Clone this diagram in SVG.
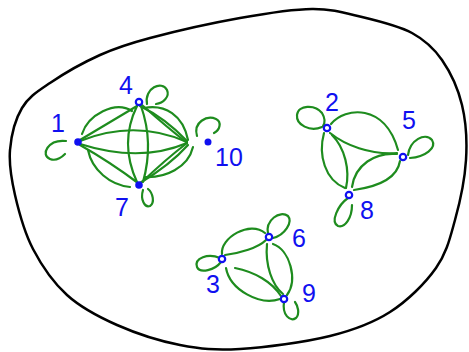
<svg xmlns="http://www.w3.org/2000/svg" width="469" height="352" viewBox="0 0 469 352">
<style>
.outline{fill:none;stroke:#000;stroke-width:2.5;stroke-linecap:round}
.e{fill:none;stroke:#1e8c1e;stroke-width:2.2;stroke-linecap:round}
.n{fill:#fff;stroke:#1010f0;stroke-width:2.2}
.nf{fill:#1010f0;stroke:#1010f0;stroke-width:2}
.l{font-family:"Liberation Sans",Arial,sans-serif;font-size:25px;fill:#1010f0;text-anchor:middle;dominant-baseline:central}
</style>
<rect width="469" height="352" fill="#fff"/>
<path class="outline" d="M10,150 C11.2,135.5 15.3,119.2 22,108 C28.7,96.8 37,91.8 50,83 C63,74.2 83.3,62.5 100,55 C116.7,47.5 126.7,44.2 150,38 C173.3,31.8 213,22.8 240,18 C267,13.2 291.7,9.2 312,9 C332.3,8.8 345.3,13 362,17 C378.7,21 398.7,25.8 412,33 C425.3,40.2 433.7,48 442,60 C450.3,72 458,88.3 462,105 C466,121.7 467.2,140.8 466,160 C464.8,179.2 460,202 455,220 C450,238 446.8,252.7 436,268 C425.2,283.3 407.7,300.7 390,312 C372.3,323.3 355,329.8 330,336 C305,342.2 265,347.5 240,349 C215,350.5 200.5,349 180,345 C159.5,341 135.8,333.3 117,325 C98.2,316.7 81,307.7 67,295 C53,282.3 41.7,265.7 33,249 C24.3,232.3 18.8,211.5 15,195 C11.2,178.5 8.8,164.5 10,150 Z"/>
<g id="connectors">
<!-- cluster 1 -->
<path class="e" d="M80,141 Q135,119 187,142"/>
<path class="e" d="M80,144 Q140,163 187,143"/>
<path class="e" d="M140,106 Q165,118 187,141"/>
<path class="e" d="M142,105 Q168,128 186,142"/>
<path class="e" d="M142,182 Q165,160 187,143"/>
<path class="e" d="M140,183 Q170,165 188,145"/>
<path class="e" d="M137,106 Q119,143 137,182"/>
<path class="e" d="M141,106 Q154,143 143,182"/>
<path class="e" d="M82,134 C88,115 115,100 132,111"/>
<path class="e" d="M80,140 Q105,125 137,106"/>
<path class="e" d="M88,150 C92,170 110,185 130,187"/>
<path class="e" d="M80,145 Q110,162 138,183"/>
<path class="e" d="M144,108 C165,104 183,115 188,140"/>
<path class="e" d="M145,177 C165,178 188,168 193,147"/>
<path class="e" d="M66,141 C48,139 40,155 50,159 C55,161 61,158 65,154"/>
<path class="e" d="M147,104 C144,88 162,80 167,90 C170,97 163,103 156,104"/>
<path class="e" d="M197,136 C193,122 207,115 216,119 C222,122 220,130 214,133"/>
<path class="e" d="M143,190 C140,200 145,208 150,206 C155,203 153,193 148,189"/>
<!-- cluster 2 -->
<path class="e" d="M331,124 C345,107 385,103 398,150"/>
<path class="e" d="M330,133 C345,145 370,155 397,153"/>
<path class="e" d="M324,133 C318,155 325,180 345,188"/>
<path class="e" d="M332,135 C345,148 350,170 346,188"/>
<path class="e" d="M397,154 C375,152 355,165 352,187"/>
<path class="e" d="M400,161 C397,180 375,187 354,190"/>
<path class="e" d="M322,127 C310,132 296,125 297,115 C298,105 315,104 322,113 C325,118 325,123 323,126"/>
<path class="e" d="M408,155 C410,140 425,132 432,140 C437,148 425,157 410,158"/>
<path class="e" d="M348,198 C338,205 330,222 338,226 C345,228 352,218 352,205"/>
<!-- cluster 3 -->
<path class="e" d="M222,254 C220,238 250,220 265,233"/>
<path class="e" d="M225,255 C240,253 258,248 266,240"/>
<path class="e" d="M267,244 C265,265 272,285 283,294"/>
<path class="e" d="M273,244 C290,250 298,280 287,295"/>
<path class="e" d="M235,268 C255,272 272,282 281,296"/>
<path class="e" d="M226,268 C230,290 260,306 280,299"/>
<path class="e" d="M220,258 C208,253 194,258 197,267 C200,274 215,270 221,262"/>
<path class="e" d="M268,234 C265,220 280,210 288,216 C293,222 285,235 273,238"/>
<path class="e" d="M284,302 C282,315 290,322 296,318 C300,314 298,306 295,302"/>
</g>
<g id="node1"><circle class="nf" cx="78" cy="142" r="2.8"/><text class="l" x="58" y="123">1</text></g>
<g id="node4"><circle class="n" cx="139" cy="102" r="3.2"/><text class="l" x="126" y="85">4</text></g>
<g id="node10"><circle class="nf" cx="208" cy="142" r="2.5"/><text class="l" x="229" y="157">10</text></g>
<g id="node7"><circle class="nf" cx="139" cy="185" r="2.8"/><text class="l" x="122" y="207">7</text></g>
<g id="node2"><circle class="n" cx="327" cy="128" r="3.2"/><text class="l" x="332" y="102">2</text></g>
<g id="node5"><circle class="n" cx="403" cy="157" r="3.2"/><text class="l" x="409" y="120">5</text></g>
<g id="node8"><circle class="n" cx="349" cy="195" r="3.2"/><text class="l" x="367" y="210">8</text></g>
<g id="node6"><circle class="n" cx="269" cy="237" r="3.2"/><text class="l" x="299" y="238">6</text></g>
<g id="node3"><circle class="n" cx="222" cy="259" r="3.2"/><text class="l" x="213" y="284">3</text></g>
<g id="node9"><circle class="n" cx="284" cy="299" r="3.2"/><text class="l" x="309" y="293">9</text></g>
</svg>
